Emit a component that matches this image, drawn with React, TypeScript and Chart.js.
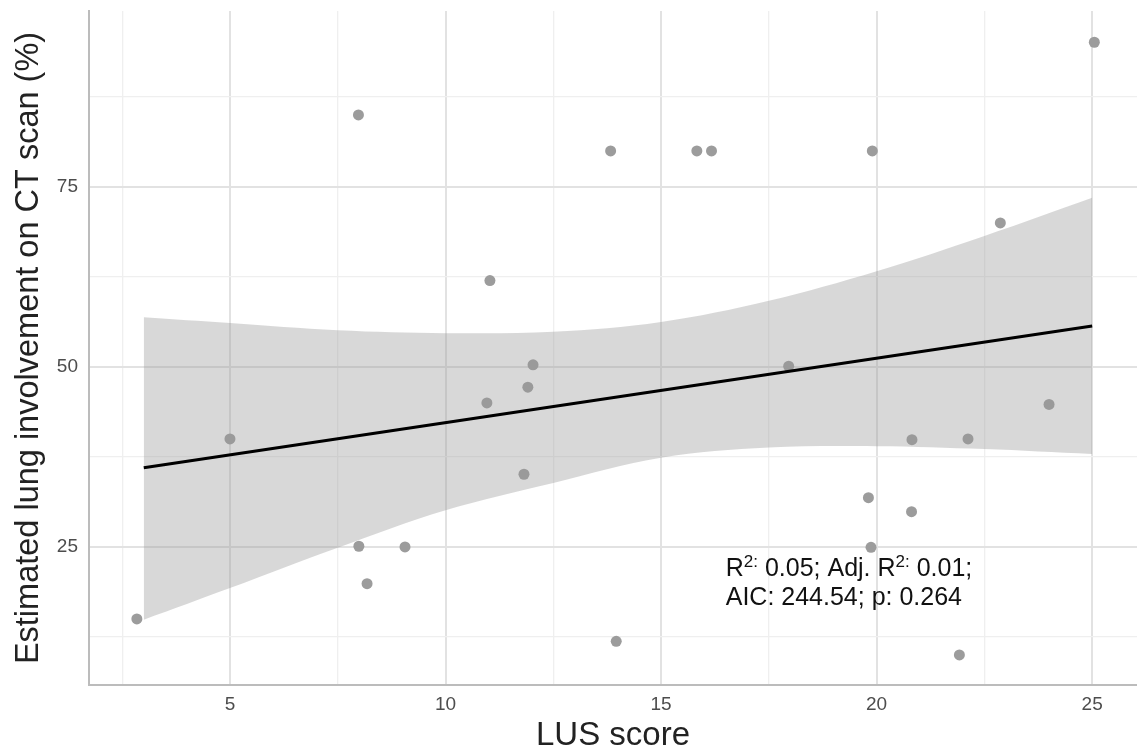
import React, { useEffect, useRef } from "react";
import { Chart, registerables } from "chart.js";

Chart.register(...registerables);

// Scatter points (LUS score, CT involvement %)
const pointX = [2.84, 5.0, 7.98, 7.99, 8.18, 9.06, 10.96, 11.03, 11.82, 11.91, 12.03, 13.83, 13.96, 15.83, 16.17, 17.96, 19.81, 19.87, 19.9, 20.81, 20.82, 21.92, 22.12, 22.87, 24.0, 25.05];
const pointY = [15.0, 40.0, 85.0, 25.1, 19.9, 25.0, 45.0, 62.0, 35.1, 47.2, 50.3, 80.0, 11.9, 80.0, 80.0, 50.1, 31.85, 24.95, 80.0, 29.9, 39.9, 10.0, 40.0, 70.0, 44.8, 95.1];

// Fitted regression line
const fitX = [3, 25];
const fitY = [36.0, 55.7];

// Confidence band
const bandX = [3, 5, 7.5, 10, 12.5, 15, 17.5, 20, 22.5, 25];
const bandUpper = [56.9, 56.1, 55.1, 54.7, 54.9, 56.25, 59.2, 63.3, 68.2, 73.5];
const bandLower = [14.9, 19.3, 24.9, 30.1, 33.9, 37.4, 38.8, 39.0, 38.6, 37.9];

// Ticks (major + minor grid)
const xTicks = [2.5, 5, 7.5, 10, 12.5, 15, 17.5, 20, 22.5, 25];
const yTicks = [12.5, 25, 37.5, 50, 62.5, 75, 87.5];
const xMajorStep = 5;
const yMajorStep = 25;

const xTitle = "LUS score";
const yTitle = "Estimated lung involvement on CT scan (%)";
const statLine1 = [
  { t: "R", sup: false },
  { t: "2:", sup: true },
  { t: " 0.05; Adj. R", sup: false },
  { t: "2:", sup: true },
  { t: " 0.01;", sup: false },
];
const statLine2 = "AIC: 244.54; p: 0.264";
const statAnchor = { x: 16.5, y1: 20.9, y2: 16.9 };

const FONT = "'Liberation Sans', Arial, Helvetica, sans-serif";
const PLOT_RIGHT = 1137;

// Stretch the plot panel to the right edge of the canvas
const panelPlugin = {
  id: "panelStretch",
  afterLayout(chart: any) {
    const xs = chart.scales.x;
    if (xs.right !== PLOT_RIGHT) {
      xs.right = PLOT_RIGHT;
      xs.width = xs.right - xs.left;
      xs.configure();
      chart.chartArea.right = PLOT_RIGHT;
      chart.chartArea.width = PLOT_RIGHT - chart.chartArea.left;
    }
  },
};

const annotationPlugin = {
  id: "statAnnotation",
  afterDraw(chart: any) {
    const ctx = chart.ctx;
    const xs = chart.scales.x;
    const ys = chart.scales.y;
    const x0 = xs.getPixelForValue(statAnchor.x);
    const b1 = ys.getPixelForValue(statAnchor.y1);
    const b2 = ys.getPixelForValue(statAnchor.y2);
    ctx.save();
    ctx.fillStyle = "#111111";
    ctx.textBaseline = "alphabetic";
    ctx.textAlign = "left";
    let x = x0;
    for (const seg of statLine1) {
      if (seg.sup) {
        ctx.font = `17px ${FONT}`;
        ctx.fillText(seg.t, x, b1 - 9);
      } else {
        ctx.font = `25px ${FONT}`;
        ctx.fillText(seg.t, x, b1);
      }
      x += ctx.measureText(seg.t).width;
    }
    ctx.font = `25px ${FONT}`;
    ctx.fillText(statLine2, x0, b2);
    ctx.restore();
  },
};

export default function App() {
  const ref = useRef<HTMLCanvasElement | null>(null);

  useEffect(() => {
    if (!ref.current) return;
    const isMajor = (v: number, step: number) =>
      Math.abs(v / step - Math.round(v / step)) < 1e-6;
    const gridColor = (ctx: any, step: number) => (isMajor(ctx.tick.value, step) ? "#e2e2e2" : "#efefef");
    const gridWidth = (ctx: any, step: number) => (isMajor(ctx.tick.value, step) ? 2 : 1.3);

    const chart = new Chart(ref.current, {
      type: "line",
      data: {
        datasets: [
          {
            label: "fit",
            data: fitX.map((x, i) => ({ x, y: fitY[i] })),
            borderColor: "#000000",
            borderWidth: 3,
            pointRadius: 0,
            fill: false,
            order: 0,
          },
          {
            label: "lower",
            data: bandX.map((x, i) => ({ x, y: bandLower[i] })),
            borderWidth: 0,
            borderColor: "rgba(0,0,0,0)",
            pointRadius: 0,
            fill: false,
            tension: 0.35,
            order: 1,
          },
          {
            label: "upper",
            data: bandX.map((x, i) => ({ x, y: bandUpper[i] })),
            borderWidth: 0,
            borderColor: "rgba(0,0,0,0)",
            backgroundColor: "rgba(153,153,153,0.38)",
            pointRadius: 0,
            fill: 1,
            tension: 0.35,
            order: 1,
          },
          {
            label: "points",
            data: pointX.map((x, i) => ({ x, y: pointY[i] })),
            showLine: false,
            pointRadius: 5.5,
            pointBackgroundColor: "#9c9c9c",
            pointBorderWidth: 0,
            borderColor: "#9c9c9c",
            order: 2,
          },
        ],
      },
      options: {
        animation: false,
        responsive: false,
        devicePixelRatio: 1,
        layout: { padding: { top: 11, left: 0, right: 0, bottom: 0 } },
        plugins: {
          legend: { display: false },
          tooltip: { enabled: false },
        },
        scales: {
          x: {
            type: "linear",
            min: 1.73,
            max: 26.04,
            afterBuildTicks: (scale: any) => {
              scale.ticks = xTicks.map((v) => ({ value: v }));
            },
            afterFit: (scale: any) => {
              scale.height = 66;
              scale.paddingLeft = 0;
              scale.paddingRight = 0;
            },
            ticks: {
              autoSkip: false,
              maxRotation: 0,
              padding: 8,
              color: "#4d4d4d",
              font: { family: FONT, size: 19 },
              callback: (v: any) => (isMajor(Number(v), xMajorStep) ? String(v) : ""),
            },
            grid: {
              drawTicks: false,
              color: (ctx: any) => gridColor(ctx, xMajorStep),
              lineWidth: (ctx: any) => gridWidth(ctx, xMajorStep),
            },
            border: { display: true, color: "#bcbcbc", width: 2 },
            title: {
              display: true,
              text: xTitle,
              color: "#222222",
              font: { family: FONT, size: 33, lineHeight: 0.9 },
              padding: 0,
            },
          },
          y: {
            type: "linear",
            min: 5.83,
            max: 99.44,
            afterBuildTicks: (scale: any) => {
              scale.ticks = yTicks.map((v) => ({ value: v }));
            },
            afterFit: (scale: any) => {
              scale.width = 89;
              scale.paddingTop = 0;
              scale.paddingBottom = 0;
            },
            ticks: {
              autoSkip: false,
              padding: 11,
              color: "#4d4d4d",
              font: { family: FONT, size: 19 },
              callback: (v: any) => (isMajor(Number(v), yMajorStep) ? String(v) : ""),
            },
            grid: {
              drawTicks: false,
              color: (ctx: any) => gridColor(ctx, yMajorStep),
              lineWidth: (ctx: any) => gridWidth(ctx, yMajorStep),
            },
            border: { display: true, color: "#bcbcbc", width: 2 },
            title: {
              display: true,
              text: yTitle,
              color: "#222222",
              font: { family: FONT, size: 32.5, lineHeight: 0.9 },
              padding: { top: 14, bottom: 0 },
            },
          },
        },
      },
      plugins: [panelPlugin, annotationPlugin],
    } as any);

    return () => chart.destroy();
  }, []);

  return (
    <div
      style={{
        position: "fixed",
        left: 0,
        top: 0,
        width: 1137,
        height: 751,
        background: "#ffffff",
      }}
    >
      <canvas ref={ref} width={1137} height={751} style={{ display: "block" }} />
    </div>
  );
}
